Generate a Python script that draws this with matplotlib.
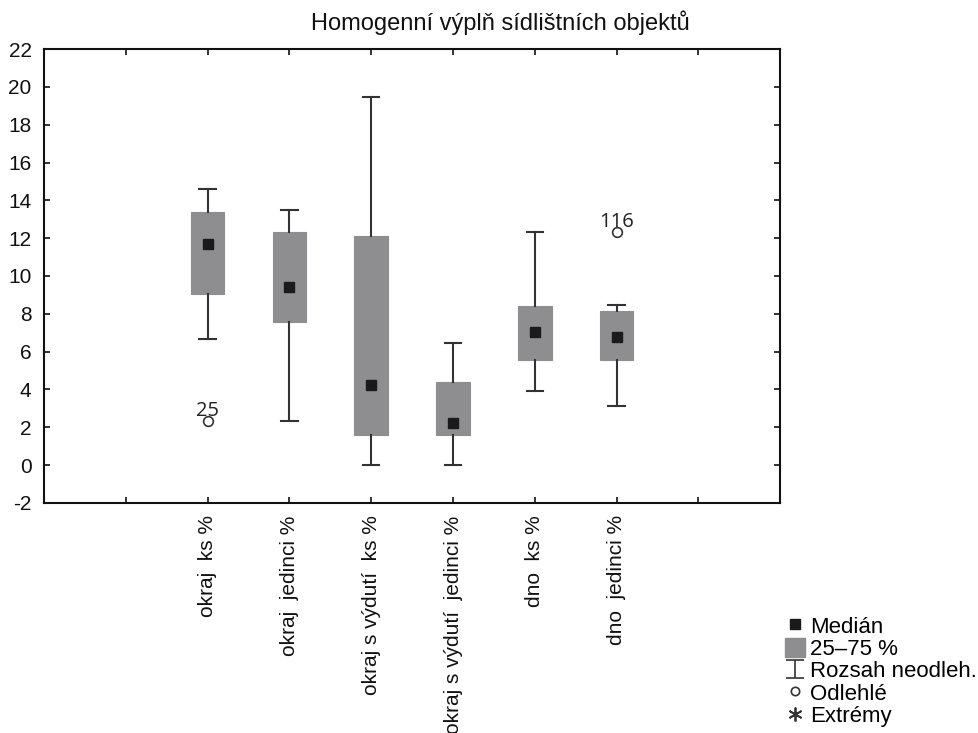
import numpy as np
import matplotlib
matplotlib.use("Agg")
import matplotlib.pyplot as plt
from matplotlib.path import Path
from matplotlib.lines import Line2D
from matplotlib.patches import Patch

plt.rcParams['font.family'] = ['Liberation Sans', 'DejaVu Sans']
plt.rcParams['axes.unicode_minus'] = False

# data
categories = ["okraj  ks %", "okraj  jedinci %", "okraj s výdutí  ks %",
              "okraj s výdutí  jedinci %", "dno  ks %", "dno  jedinci %"]
medians = [11.7, 9.4, 4.25, 2.2, 7.05, 6.75]
q1 = [9.05, 7.55, 1.57, 1.58, 5.53, 5.53]
q3 = [13.4, 12.35, 12.1, 4.4, 8.4, 8.15]
whisk_lo = [6.65, 2.35, 0.0, 0.0, 3.9, 3.12]
whisk_hi = [14.6, 13.5, 19.45, 6.48, 12.35, 8.44]
outlier_vals = [[2.35], [], [], [], [], [12.35]]
outlier_ids = [["25"], [], [], [], [], ["116"]]

box_gray = "#8e8e90"
line_col = "#333333"

fig = plt.figure(figsize=(9.79, 7.33), dpi=100)
ax = fig.add_axes([0.045, 0.314, 0.752, 0.619])

positions = np.arange(1, len(categories) + 1)
stats = []
for i in range(len(categories)):
    stats.append(dict(med=medians[i], q1=q1[i], q3=q3[i],
                      whislo=whisk_lo[i], whishi=whisk_hi[i], fliers=[]))

ax.bxp(stats, positions=positions, widths=0.41, capwidths=0.2,
       patch_artist=True, showfliers=False,
       boxprops=dict(facecolor=box_gray, edgecolor=box_gray, linewidth=0.8),
       whiskerprops=dict(color=line_col, linewidth=1.5),
       capprops=dict(color=line_col, linewidth=1.5),
       medianprops=dict(linewidth=0))

# medians as black squares
ax.plot(positions, medians, linestyle="none", marker="s", markersize=7.5,
        color="#1a1a1a", zorder=5)

# outliers with labels
for i, (vals, ids) in enumerate(zip(outlier_vals, outlier_ids)):
    for v, lab in zip(vals, ids):
        ax.plot(positions[i], v, linestyle="none", marker="o", markersize=7,
                markerfacecolor="white", markeredgecolor="#333333",
                markeredgewidth=1.2, zorder=4)
        ax.annotate(lab, (positions[i], v), xytext=(0, 3),
                    textcoords="offset points", ha="center", va="baseline",
                    fontsize=14.5, family="Open Sans", color="#222222")

ax.set_xlim(-1, 8)
ax.set_ylim(-2, 22)
ax.set_yticks(np.arange(-2, 23, 2))
ax.set_xticks(np.arange(0, 8))
ax.set_xticklabels([""] + categories + [""], rotation=90)
ax.tick_params(axis="both", direction="in", length=4, width=1.2,
               labelsize=15, top=True, right=True, colors="#111111")
ax.tick_params(axis="x", pad=9)
ax.tick_params(axis="y", pad=9)
for sp in ax.spines.values():
    sp.set_linewidth(1.5)
    sp.set_color("#111111")

fig.text(0.511, 0.969, "Homogenní výplň sídlištních objektů",
         ha="center", va="center", fontsize=17, color="#111111")

# legend
whisk_marker = Path([(-1, 1), (1, 1), (0, 1), (0, -1), (-1, -1), (1, -1)],
                    [Path.MOVETO, Path.LINETO, Path.MOVETO, Path.LINETO,
                     Path.MOVETO, Path.LINETO])
handles = [
    Line2D([], [], linestyle="none", marker="s", markersize=7, color="#1a1a1a"),
    Patch(facecolor=box_gray, edgecolor=box_gray),
    Line2D([], [], linestyle="none", marker=whisk_marker, markersize=13,
           markerfacecolor="none", markeredgecolor="#333333", markeredgewidth=1.2),
    Line2D([], [], linestyle="none", marker="o", markersize=6,
           markerfacecolor="white", markeredgecolor="#333333", markeredgewidth=1.2),
    Line2D([], [], linestyle="none", marker=(6, 2, 0), markersize=10,
           color="#333333", markeredgewidth=1.3),
]
labels = ["Medián", "25–75 %", "Rozsah neodleh.", "Odlehlé", "Extrémy"]
fig.legend(handles, labels, loc="upper left",
           bbox_to_anchor=(0.793, 0.172),
           frameon=False, fontsize=16, handlelength=0.9, handleheight=0.9,
           handletextpad=0.2, labelspacing=0.02, borderaxespad=0)

fig.savefig("out.png", dpi=100)
